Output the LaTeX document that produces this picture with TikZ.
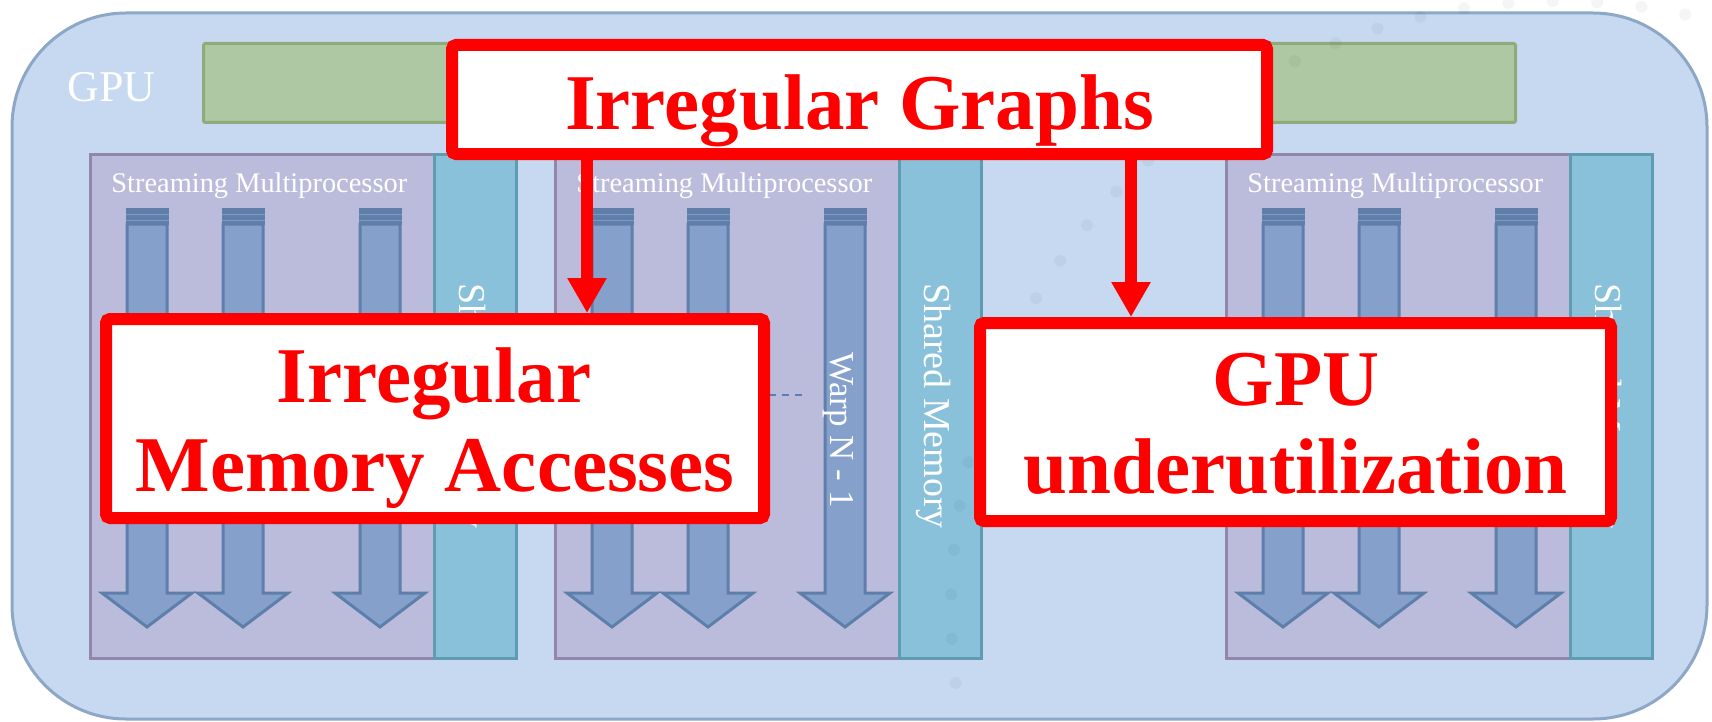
\documentclass[tikz,border=0pt]{standalone}
\usepackage{fontspec}
\setmainfont{Liberation Serif}
\usetikzlibrary{arrows.meta}

\definecolor{gpufill}{HTML}{C6D9F0}
\definecolor{gpuline}{HTML}{8DA7C7}
\definecolor{greenfill}{HTML}{AFC8A4}
\definecolor{greenline}{HTML}{90AB7A}
\definecolor{smfill}{HTML}{BBBCDB}
\definecolor{smline}{HTML}{8F88AC}
\definecolor{shmfill}{HTML}{89C1DB}
\definecolor{shmline}{HTML}{5F9CB2}
\definecolor{warpfill}{HTML}{84A0CB}
\definecolor{warpline}{HTML}{5E7FAA}
\definecolor{warpband}{HTML}{5F7EA9}
\definecolor{warpgap}{HTML}{7E9AC4}
\definecolor{dashblue}{HTML}{5B7FB5}
\definecolor{alertred}{HTML}{FF0000}

\begin{document}
\begin{tikzpicture}[x=0.5pt, y=-0.5pt,
  gpubox/.style={draw=gpuline, fill=gpufill, line width=1.5pt, rounded corners=57pt, inner sep=0pt},
  membar/.style={draw=greenline, fill=greenfill, line width=1.5pt, rounded corners=1pt, inner sep=0pt},
  smbox/.style={draw=smline, fill=smfill, line width=1.5pt, inner sep=0pt,
                minimum width=172pt, minimum height=252pt},
  shmbox/.style={draw=shmline, fill=shmfill, line width=1.5pt, inner sep=0pt,
                 minimum width=41pt, minimum height=252pt},
  whitetxt/.style={text=white, inner sep=0pt},
  gpulabel/.style={whitetxt, font=\fontsize{22pt}{26pt}\selectfont, anchor=base west},
  smtitle/.style={whitetxt, font=\fontsize{14.2pt}{17pt}\selectfont, anchor=base west},
  vlabel/.style={whitetxt, font=\fontsize{19pt}{22pt}\selectfont, rotate=-90, anchor=base},
  warp/.style={draw=warpline, fill=warpfill, line width=1.5pt, line join=miter},
  dashline/.style={draw=dashblue, line width=0.6pt, dash pattern=on 3.5pt off 3pt},
  sealdot/.style={fill=black, opacity=0.04},
  alertbox/.style={draw=alertred, fill=white, line width=6pt, rounded corners=2pt, inner sep=0pt},
  alerttxt/.style={text=alertred, font=\bfseries\fontsize{39.5pt}{44.5pt}\selectfont,
                   anchor=base, inner sep=0pt},
  alertarrow/.style={draw=alertred, line width=6pt, -{Triangle[width=18.5pt,length=17.5pt]}}
]
\useasboundingbox (0,0) rectangle (1712,722);

% GPU frame and its global memory bar
\node[gpubox, minimum width=847.5pt, minimum height=353pt] (gpu) at (859.5,366) {};
\node[gpulabel] (gpuname) at (67,102) {GPU};
\node[membar, minimum width=656pt, minimum height=39.5pt] (gmem) at (859.5,83) {};

% Streaming multiprocessors with their warps and shared memory
\foreach \L/\n in {90/1, 555/2, 1226/3} {
  \node[smbox] (sm\n) at (\L+172,406) {};
  \node[shmbox] (shm\n) at (\L+385,406) {};
  \node[smtitle] (smt\n) at (\L+21,192) {Streaming Multiprocessor};
  \node[vlabel] (shmt\n) at (\L+369,406) {Shared Memory};
  \foreach \c in {57,153,290} {
    \pgfmathsetmacro\cx{\L+\c}
    \draw[warp] ({\cx-20},224) -- ({\cx+20},224) -- ({\cx+20},593) -- ({\cx+45},593)
      -- (\cx,627) -- ({\cx-45},593) -- ({\cx-20},593) -- cycle;
    \fill[warpband] ({\cx-21.5},208) rectangle ({\cx+21.5},225);
    \draw[warpgap, line width=0.7pt] ({\cx-21.5},214.5) -- ({\cx+21.5},214.5)
      ({\cx-21.5},220.5) -- ({\cx+21.5},220.5);
  }
  \draw[dashline] ({\L+153+22},395) -- ({\L+248},395);
}
\node[vlabel, font=\fontsize{17.5pt}{20pt}\selectfont] (warpN) at (830,430) {Warp N - 1};

% faint ring of dots from the seal behind the slide
\foreach \k in {-6,...,23} {
  \pgfmathsetmacro\ang{90.5+4.2*\k}
  \fill[sealdot] ({1558+607*cos(\ang)},{608-607*sin(\ang)}) circle (3pt);
}

% callouts
\coordinate (a1) at (587,0);
\coordinate (a2) at (1131,0);
\node[alertbox, minimum width=407.5pt, minimum height=54.5pt] (ig) at (859.5,99.5) {};
\node[alertbox, minimum width=329pt, minimum height=99.5pt] (ima) at (435,418.5) {};
\node[alertbox, minimum width=315.5pt, minimum height=99pt] (gu) at (1295.5,422) {};
\draw[alertarrow] (ig.south -| a1) -- (ima.north -| a1);
\draw[alertarrow] (ig.south -| a2) -- (gu.north -| a2);

\node[alerttxt] (igt) at (859.5,130) {Irregular Graphs};
\node[alerttxt] (imat1) at (434,402) {Irregular};
\node[alerttxt] (imat2) at (435,491) {Memory Accesses};
\node[alerttxt] (gut1) at (1296,405) {GPU};
\node[alerttxt] (gut2) at (1295.5,493) {underutilization};
\end{tikzpicture}
\end{document}
